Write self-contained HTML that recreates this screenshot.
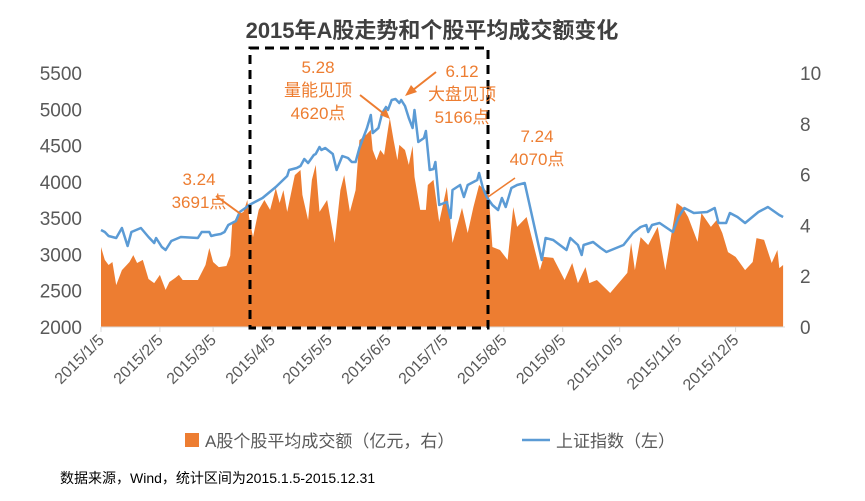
<!DOCTYPE html>
<html><head><meta charset="utf-8"><style>
body{margin:0;background:#fff;}
svg text{font-family:"Liberation Sans","Noto Sans CJK SC",sans-serif;}
</style></head><body>
<svg id="c" width="865" height="496"></svg>
<script>
const idxDays=[0,2,4,8,11,14,16,21,25,28,29,32,34,37,42,51,53,57,58,60,63,65,67,71,73,76,78,82,85,92,98,99,103,105,107,109,112,113,115,116,118,122,124,127,130,132,134,136,140,142,143,146,148,150,151,153,155,157,158,160,162,164,165,167,170,171,173,175,176,178,182,184,185,189,191,193,198,199,201,203,206,209,211,213,216,219,223,225,232,234,238,245,247,251,253,254,259,263,266,275,280,284,287,288,290,294,301,304,307,312,319,323,325,329,331,335,339,346,351,357,359];
const idxVals=[3337,3309,3254,3226,3364,3116,3309,3364,3240,3158,3226,3102,3061,3185,3240,3226,3309,3309,3254,3268,3282,3309,3406,3461,3585,3640,3681,3736,3778,3929,4081,4163,4191,4219,4315,4260,4370,4384,4480,4439,4467,4384,4163,4356,4329,4274,4274,4467,4742,4921,4673,4742,4949,5032,4990,5128,5142,5087,5128,5045,4880,4742,4990,4549,4604,4701,4163,4177,4274,3681,3722,3502,3888,3957,3791,3957,4026,4122,3915,3791,3681,3612,3778,3654,3915,3957,3984,3750,2923,3226,3199,3061,3226,3130,2992,3130,3171,3089,3034,3130,3295,3378,3406,3309,3406,3433,3309,3516,3640,3571,3585,3640,3433,3433,3571,3516,3433,3585,3654,3543,3516];
const volDays=[0,2,4,6,8,11,15,17,19,22,25,28,31,32,34,36,39,41,43,47,51,55,57,59,62,66,68,69,72,75,77,78,80,83,86,89,92,94,96,98,102,105,106,109,111,113,115,119,123,126,128,131,134,136,140,142,143,145,147,149,151,152,154,156,157,160,162,164,165,168,171,172,175,178,182,185,190,193,196,199,204,206,210,214,217,219,224,231,233,238,244,248,251,255,257,261,268,277,279,281,284,288,293,297,303,306,309,314,316,321,324,327,330,334,339,343,345,349,353,356,357,359];
const volVals=[3.15,2.64,2.44,2.56,1.65,2.24,2.56,2.83,2.52,2.64,1.89,1.73,2.05,1.85,1.46,1.77,1.93,2.05,1.85,1.85,1.85,2.44,3.11,2.56,2.36,2.40,2.80,4.02,4.41,4.53,5.00,4.29,3.54,4.61,5.00,4.61,5.47,4.88,5.39,4.53,5.98,6.18,5.20,4.21,5.79,6.38,4.53,5.00,3.31,5.39,5.98,4.53,5.39,7.36,7.60,7.76,6.97,6.57,6.97,6.77,7.76,8.23,7.36,6.57,7.17,6.97,6.38,7.13,5.91,4.61,4.61,5.59,5.79,4.13,5.51,3.31,4.69,3.70,4.72,5.59,5.28,3.15,3.03,2.64,4.72,3.94,4.33,2.24,2.76,2.72,1.85,2.52,1.73,2.36,1.73,1.85,1.34,2.13,3.31,2.24,3.54,3.23,3.94,2.24,4.88,4.72,4.33,3.35,4.49,3.94,4.21,3.70,2.95,2.76,2.24,2.56,3.50,3.43,2.52,3.03,2.32,2.44];
const leftTicks=[2000,2500,3000,3500,4000,4500,5000,5500];
const rightTicks=[0,2,4,6,8,10];
const xTickDays=[0,31,59,90,120,151,181,212,243,273,304,334];
const xTickLabels=["2015/1/5","2015/2/5","2015/3/5","2015/4/5","2015/5/5","2015/6/5","2015/7/5","2015/8/5","2015/9/5","2015/10/5","2015/11/5","2015/12/5"];

const X0=101,X1=785,Y0=327,Y1=73;
const xs=d=>X0+d/360*(X1-X0);
const yl=v=>Y0-(v-2000)/3500*(Y0-Y1);
const yr=v=>Y0-v/10*(Y0-Y1);
const svg=document.getElementById('c');
const NS='http://www.w3.org/2000/svg';
function mk(t,a,txt){const e=document.createElementNS(NS,t);for(const k in a)e.setAttribute(k,a[k]);if(txt!==undefined)e.textContent=txt;svg.appendChild(e);return e;}
let e;
e=mk('text',{x:432,y:38,'text-anchor':'middle','font-size':22,'font-weight':'bold',fill:'#404040'},'2015年A股走势和个股平均成交额变化');


leftTicks.forEach(v=>{e=mk('text',{x:82,y:yl(v)+7,'text-anchor':'end','font-size':19,fill:'#595959'},v);

});
rightTicks.forEach(v=>{e=mk('text',{x:800,y:yr(v)+7,'text-anchor':'start','font-size':19,fill:'#595959'},v);

});
// area
let p=`M${xs(volDays[0])},${Y0}`;volDays.forEach((d,i)=>p+=` L${xs(d).toFixed(1)},${yr(volVals[i]).toFixed(1)}`);p+=` L${xs(volDays[volDays.length-1])},${Y0}Z`;
e=mk('path',{d:p,fill:'#ED7D31'});


p='';idxDays.forEach((d,i)=>p+=(i?' L':'M')+xs(d).toFixed(1)+','+yl(idxVals[i]).toFixed(1));
e=mk('path',{d:p,fill:'none',stroke:'#5B9BD5','stroke-width':2.5,'stroke-linejoin':'round'});


e=mk('line',{x1:X0,y1:Y0,x2:X1,y2:Y0,stroke:'#d9d9d9','stroke-width':1});


xTickDays.forEach((d,i)=>{const x=xs(d);
mk('line',{x1:x,y1:Y0,x2:x,y2:Y0+5,stroke:'#d9d9d9'});
e=mk('text',{x:x+4,y:Y0+14,'text-anchor':'end','font-size':16,fill:'#595959',transform:`rotate(-45 ${x+4} ${Y0+14})`},xTickLabels[i]);

});
e=mk('rect',{x:250,y:48,width:238,height:280,fill:'none',stroke:'#000','stroke-width':3,'stroke-dasharray':'9,6'});


const O='#ED7D31';
function ann(lines,x,y,name){lines.forEach((t,i)=>{e=mk('text',{x:x,y:y+i*23,'text-anchor':'middle','font-size':17,fill:O},t);

});}
ann(['3.24','3691点'],199,185,'annotation-0324');
mk('line',{x1:216,y1:196,x2:242,y2:215,stroke:O,'stroke-width':2});
ann(['5.28','量能见顶','4620点'],318,73,'annotation-0528');
mk('line',{x1:360,y1:95,x2:388,y2:117,stroke:O,'stroke-width':2});
mk('path',{d:'M390,119 L380,115 L386,109Z',fill:O});
ann(['6.12','大盘见顶','5166点'],462,77,'annotation-0612');
mk('line',{x1:436,y1:72,x2:413,y2:90,stroke:O,'stroke-width':2});
mk('path',{d:'M405,96 L411,85 L417,92Z',fill:O});
ann(['7.24','4070点'],537,142,'annotation-0724');
mk('line',{x1:515,y1:178,x2:488,y2:197,stroke:O,'stroke-width':1.5});
e=mk('rect',{x:185,y:433,width:14,height:14,fill:O});


e=mk('text',{x:205,y:447,'font-size':17,fill:'#595959'},'A股个股平均成交额（亿元，右）');


e=mk('line',{x1:522,y1:440,x2:550,y2:440,stroke:'#5B9BD5','stroke-width':2.5});


e=mk('text',{x:556,y:447,'font-size':17,fill:'#595959'},'上证指数（左）');


e=mk('text',{x:60,y:483,'font-size':14,fill:'#000'},'数据来源，Wind，统计区间为2015.1.5-2015.12.31');


</script>
</body></html>
